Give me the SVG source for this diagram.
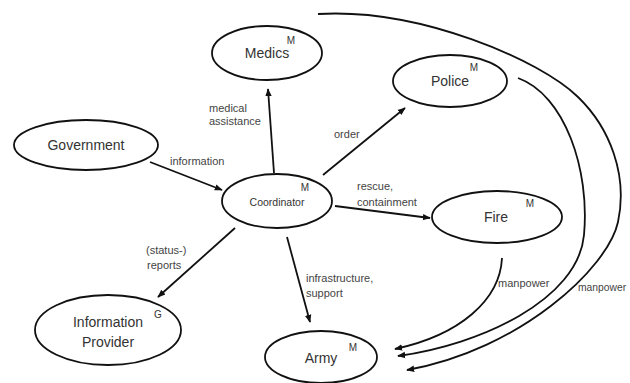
<svg xmlns="http://www.w3.org/2000/svg" width="630" height="383" viewBox="0 0 630 383">
<defs>
<marker id="ah" viewBox="0 0 10 10" refX="9" refY="5" markerWidth="8" markerHeight="8" markerUnits="userSpaceOnUse" orient="auto">
<path d="M0,1 L10,5 L0,9 z" fill="#111"/>
</marker>
</defs>
<style>
.node{fill:#fff;stroke:#111;stroke-width:1.8}
.name{font-family:"Liberation Sans",Arial,sans-serif;font-size:14px;fill:#333;text-anchor:middle}
.mark{font-family:"Liberation Sans",Arial,sans-serif;font-size:10px;fill:#333;text-anchor:middle}
.edge{fill:none;stroke:#111;stroke-width:1.8;marker-end:url(#ah)}
.lbl{font-family:"Liberation Sans",Arial,sans-serif;font-size:11px;fill:#444}
</style>
<rect width="630" height="383" fill="#fff"/>
<g id="connectors">
<path class="edge" d="M274,173 L268,89"/>
<path class="edge" d="M150,162 L222,190"/>
<path class="edge" d="M323,175 L405,108"/>
<path class="edge" d="M335,206 L430,218"/>
<path class="edge" d="M235,228 L158,297"/>
<path class="edge" d="M287,237 L310,322"/>
<path class="edge" d="M502,258 C500,300 460,335 395,349"/>
<path class="edge" d="M518,78 C565,95 590,170 584,235 C578,300 480,345 398,356"/>
<path class="edge" d="M318,14 C420,8 540,60 578,97 C610,128 628,175 618,222 C608,268 520,350 407,370"/>
<text class="lbl" x="209" y="112">medical</text>
<text class="lbl" x="209" y="125">assistance</text>
<text class="lbl" x="170" y="165">information</text>
<text class="lbl" x="334" y="138">order</text>
<text class="lbl" x="357" y="190">rescue,</text>
<text class="lbl" x="357" y="206">containment</text>
<text class="lbl" x="146" y="254">(status-)</text>
<text class="lbl" x="147" y="269">reports</text>
<text class="lbl" x="306" y="282">infrastructure,</text>
<text class="lbl" x="306" y="297">support</text>
<text class="lbl" x="498" y="287">manpower</text>
<text class="lbl" x="578" y="291" style="font-size:10.3px">manpower</text>
</g>
<g id="medics">
<ellipse class="node" cx="267" cy="53" rx="55" ry="27"/>
<text class="name" x="267" y="58">Medics</text>
<text class="mark" x="291" y="44">M</text>
</g>
<g id="government">
<ellipse class="node" cx="86" cy="145" rx="72" ry="25"/>
<text class="name" x="86" y="150">Government</text>
</g>
<g id="coordinator">
<ellipse class="node" cx="277" cy="201" rx="55" ry="27"/>
<text class="name" x="277" y="206" style="font-size:10.5px">Coordinator</text>
<text class="mark" x="305" y="191">M</text>
</g>
<g id="police">
<ellipse class="node" cx="450" cy="81" rx="57" ry="26"/>
<text class="name" x="450" y="86">Police</text>
<text class="mark" x="474" y="71">M</text>
</g>
<g id="fire">
<ellipse class="node" cx="497" cy="217" rx="65" ry="26"/>
<text class="name" x="496" y="222">Fire</text>
<text class="mark" x="530" y="207">M</text>
</g>
<g id="information-provider">
<ellipse class="node" cx="108" cy="330" rx="73" ry="35"/>
<text class="name" x="108" y="327">Information</text>
<text class="name" x="108" y="347">Provider</text>
<text class="mark" x="158" y="318">G</text>
</g>
<g id="army">
<ellipse class="node" cx="321" cy="357" rx="56" ry="26"/>
<text class="name" x="321" y="363">Army</text>
<text class="mark" x="353" y="351">M</text>
</g>
</svg>
